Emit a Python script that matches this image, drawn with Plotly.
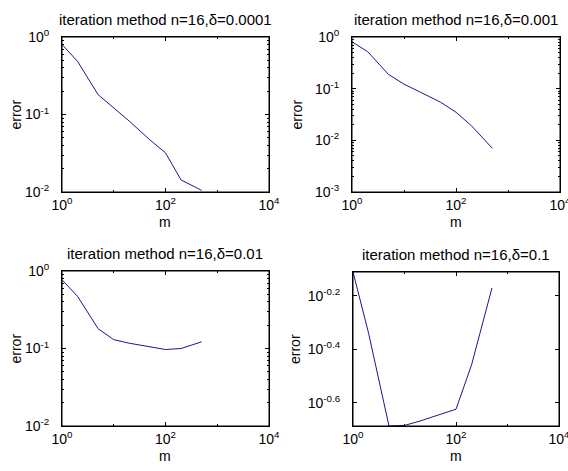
import numpy as np
import plotly.graph_objects as go

# ---- data ----
m = [1, 2, 5, 10, 20, 50, 100, 200, 500]
err_d0001 = [0.80, 0.485, 0.18, 0.121, 0.082, 0.047, 0.032, 0.0143, 0.0105]
err_d001 = [0.81, 0.52, 0.19, 0.122, 0.087, 0.055, 0.035, 0.019, 0.0070]
err_d01 = [0.77, 0.47, 0.18, 0.13, 0.117, 0.104, 0.097, 0.100, 0.122]
err_d1 = [0.775, 0.459, 0.206, 0.207, 0.215, 0.228, 0.238, 0.348, 0.676]

titles = ["iteration method n=16,\u03b4=0.0001", "iteration method n=16,\u03b4=0.001",
          "iteration method n=16,\u03b4=0.01", "iteration method n=16,\u03b4=0.1"]
x_tickvals = [1, 100, 10000]
x_ticktext = ["10<sup>0</sup>", "10<sup>2</sup>", "10<sup>4</sup>"]
y_ticks = [
    ([1e-2, 1e-1, 1], ["10<sup>-2</sup>", "10<sup>-1</sup>", "10<sup>0</sup>"], [-2, 0]),
    ([1e-3, 1e-2, 1e-1, 1], ["10<sup>-3</sup>", "10<sup>-2</sup>", "10<sup>-1</sup>", "10<sup>0</sup>"], [-3, 0]),
    ([1e-2, 1e-1, 1], ["10<sup>-2</sup>", "10<sup>-1</sup>", "10<sup>0</sup>"], [-2, 0]),
    ([10 ** -0.6, 10 ** -0.4, 10 ** -0.2], ["10<sup>-0.6</sup>", "10<sup>-0.4</sup>", "10<sup>-0.2</sup>"],
     [float(np.log10(min(err_d1))), float(np.log10(max(err_d1)))]),
]
series = [err_d0001, err_d001, err_d01, err_d1]

W, H = 568, 471
boxes = [(62, 269, 37, 192), (352, 560, 37, 192), (62, 269, 271, 426), (353, 559, 272, 426)]
ylabel_x = [15, 296, 15, 295]

FONT = "Liberation Sans, Arial, sans-serif"
LINE = "#18188f"


def minor_vals(lo, hi):
    out = []
    for d in range(int(np.floor(lo)), int(np.ceil(hi)) + 1):
        for k in range(2, 10):
            v = k * 10.0 ** d
            if 10 ** lo <= v <= 10 ** hi:
                out.append(v)
    return out


fig = go.Figure()
layout = dict(width=W, height=H, margin=dict(l=0, r=0, t=0, b=0, autoexpand=False),
              paper_bgcolor="white", plot_bgcolor="white", showlegend=False,
              font=dict(family=FONT, size=14, color="black"))
annotations = []
shapes = []
for i, (x0, x1, y0, y1) in enumerate(boxes):
    k = "" if i == 0 else str(i + 1)
    fig.add_trace(go.Scatter(x=m, y=series[i], mode="lines",
                             line=dict(color=LINE, width=1),
                             xaxis="x" + k, yaxis="y" + k))
    tv, tt, yr = y_ticks[i]
    common = dict(type="log", showgrid=False, zeroline=False, showline=True,
                  linecolor="black", linewidth=1, mirror="allticks", ticks="inside",
                  ticklen=4, tickcolor="black", automargin=False,
                  ticklabeloverflow="allow",
                  tickfont=dict(size=14, family=FONT))
    ymin = [] if i == 3 else minor_vals(yr[0], yr[1])
    layout["xaxis" + k] = dict(common, domain=[x0 / W, x1 / W], range=[0, 4],
                               tickmode="array", tickvals=x_tickvals, ticktext=x_ticktext,
                               anchor="y" + k, ticklabelstandoff=0,
                               minor=dict(ticks="inside", ticklen=2, tickcolor="black",
                                          tickmode="array", tickvals=[10, 1000]))
    layout["yaxis" + k] = dict(common, domain=[1 - y1 / H, 1 - y0 / H], range=yr,
                               tickmode="array", tickvals=tv, ticktext=tt,
                               anchor="x" + k, ticklabelstandoff=9,
                               minor=dict(ticks="inside", ticklen=2, tickcolor="black",
                                          tickmode="array", tickvals=ymin))
    shapes.append(dict(type="rect", xref="paper", yref="paper",
                       x0=x0 / W, x1=x1 / W, y0=1 - y1 / H, y1=1 - y0 / H,
                       line=dict(color="black", width=1), layer="above"))
    annotations.append(dict(text=titles[i], x=(x0 + x1) / 2 / W, y=1 - (y0 - 7) / H,
                            xref="paper", yref="paper", xanchor="center", yanchor="bottom",
                            showarrow=False, font=dict(size=15, family=FONT)))
    annotations.append(dict(text="m", x=(x0 + x1) / 2 / W, y=1 - (y1 + 30) / H,
                            xref="paper", yref="paper", xanchor="center", yanchor="middle",
                            showarrow=False, font=dict(size=14, family=FONT)))
    annotations.append(dict(text="error", x=ylabel_x[i] / W, y=1 - ((y0 + y1) / 2) / H,
                            xref="paper", yref="paper", xanchor="center", yanchor="middle",
                            textangle=-90, showarrow=False, font=dict(size=14, family=FONT)))
layout["annotations"] = annotations
layout["shapes"] = shapes
fig.update_layout(**layout)
fig.write_html("out.html", config={"displayModeBar": False},
               post_script="document.body.style.margin='0';document.body.style.padding='0';")
